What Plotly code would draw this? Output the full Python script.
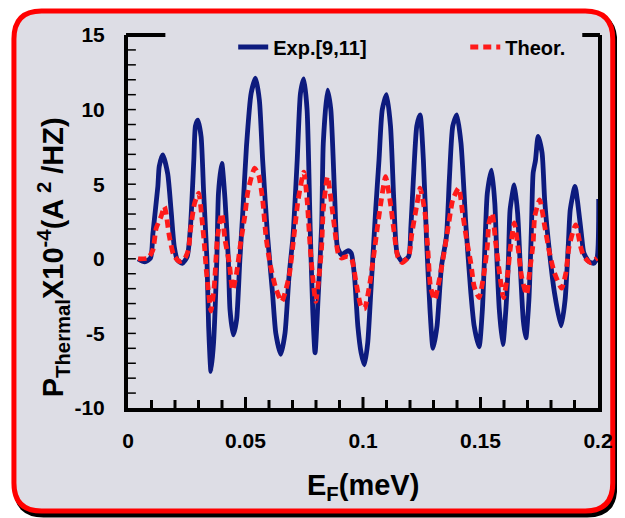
import plotly.graph_objects as go

# ---- data ----
exp_x = [0.0043, 0.0071, 0.0096, 0.0106, 0.0127, 0.0133, 0.0148, 0.0169, 0.0183, 0.0197,
         0.0210, 0.0231, 0.0252, 0.0266, 0.0280, 0.0287, 0.0297, 0.0311, 0.0322, 0.0336,
         0.0343, 0.0353, 0.0364, 0.0378, 0.0385, 0.0399, 0.0413, 0.0427, 0.0434, 0.0448,
         0.0462, 0.0476, 0.0488, 0.0504, 0.0524, 0.0543, 0.0559, 0.0573, 0.0594, 0.0615,
         0.0629, 0.0650, 0.0668, 0.0685, 0.0702, 0.0720, 0.0734, 0.0748, 0.0762, 0.0775,
         0.0786, 0.0796, 0.0810, 0.0824, 0.0831, 0.0849, 0.0863, 0.0880, 0.0891, 0.0908,
         0.0936, 0.0950, 0.0964, 0.0978, 0.0992, 0.1006, 0.1020, 0.1033, 0.1054, 0.1068,
         0.1082, 0.1100, 0.1117, 0.1131, 0.1145, 0.1166, 0.1194, 0.1204, 0.1215, 0.1229,
         0.1243, 0.1257, 0.1271, 0.1285, 0.1298, 0.1315, 0.1334, 0.1355, 0.1368, 0.1382,
         0.1399, 0.1417, 0.1438, 0.1459, 0.1473, 0.1494, 0.1508, 0.1522, 0.1529, 0.1547,
         0.1561, 0.1570, 0.1580, 0.1595, 0.1608, 0.1619, 0.1626, 0.1644, 0.1658, 0.1668,
         0.1682, 0.1693, 0.1706, 0.1717, 0.1724, 0.1734, 0.1745, 0.1762, 0.1773, 0.1794,
         0.1815, 0.1843, 0.1860, 0.1874, 0.1882, 0.1902, 0.1912, 0.1929, 0.1940, 0.1961,
         0.1982, 0.1996, 0.2003]
exp_y = [0.0, -0.2, 0.05, 1.7, 4.85, 6.2, 6.97, 5.7, 3.3, 0.8,
         -0.07, -0.3, 0.15, 2.2, 6.6, 8.9, 9.3, 8.2, 4.4, -0.07,
         -4.5, -7.55, -5.65, -0.07, 4.4, 6.4, 3.95, -0.07, -3.4, -5.1,
         -4.1, -0.07, 3.0, 7.5, 11.1, 12.1, 10.65, 6.6, 1.5, -2.3,
         -5.0, -6.4, -5.0, -1.2, 1.5, 6.6, 11.1, 12.05, 10.0, 2.2,
         -3.4, -6.3, -2.3, 2.2, 7.75, 11.3, 10.0, 3.95, 0.8, 0.27,
         0.55, 0.38, -1.2, -4.5, -6.3, -7.1, -5.65, -2.3, 3.3, 6.6,
         10.0, 11.0, 8.9, 3.95, 0.38, -0.18, 0.15, 2.2, 5.5, 8.9,
         9.65, 6.6, 1.05, -3.4, -6.0, -4.5, -0.5, 1.5, 5.5, 8.9,
         9.65, 7.75, 2.2, -2.3, -4.5, -5.9, -3.4, 2.2, 4.4, 5.95,
         3.7, -0.07, -3.4, -5.75, -3.4, 0.0, 3.3, 4.95, 3.05, -0.07,
         -4.1, -5.3, -2.75, 2.2, 5.75, 6.6, 8.2, 7.1, 3.95, 0.38,
         -2.3, -4.5, -2.75, 1.05, 3.3, 4.85, 3.95, 1.7, 0.38, -0.18,
         -0.3, 0.05, 4.0]

theor_x = [0.0043, 0.0085, 0.0106, 0.0120, 0.0141, 0.0155, 0.0162, 0.0176, 0.0194, 0.0218,
           0.0238, 0.0257, 0.0266, 0.0283, 0.0301, 0.0315, 0.0325, 0.0333, 0.0343, 0.0353,
           0.0367, 0.0381, 0.0399, 0.0413, 0.0431, 0.0445, 0.0462, 0.0480, 0.0497, 0.0510,
           0.0539, 0.0556, 0.0573, 0.0587, 0.0604, 0.0629, 0.0654, 0.0685, 0.0706, 0.0724,
           0.0748, 0.0762, 0.0775, 0.0786, 0.0799, 0.0813, 0.0824, 0.0831, 0.0849, 0.0866,
           0.0880, 0.0894, 0.0908, 0.0929, 0.0950, 0.0971, 0.0992, 0.1006, 0.1027, 0.1047,
           0.1062, 0.1078, 0.1096, 0.1117, 0.1131, 0.1148, 0.1166, 0.1194, 0.1208, 0.1229,
           0.1243, 0.1264, 0.1277, 0.1287, 0.1305, 0.1326, 0.1347, 0.1365, 0.1382, 0.1407,
           0.1424, 0.1441, 0.1459, 0.1473, 0.1494, 0.1515, 0.1529, 0.1536, 0.1550, 0.1564,
           0.1577, 0.1598, 0.1616, 0.1626, 0.1644, 0.1661, 0.1675, 0.1696, 0.1710, 0.1724,
           0.1731, 0.1752, 0.1773, 0.1794, 0.1815, 0.1845, 0.1863, 0.1877, 0.1905, 0.1926,
           0.1940, 0.1968, 0.1996]
theor_y = [0.0, 0.05, 0.6, 2.05, 2.85, 3.5, 3.05, 1.5, 0.27, -0.18,
           -0.07, 0.6, 1.95, 3.7, 4.4, 2.6, 0.94, -0.74, -2.3, -3.5,
           -1.85, 1.5, 3.05, 1.27, -0.3, -2.1, -0.96, 1.16, 2.85, 4.5,
           6.08, 5.6, 3.95, 1.5, -0.3, -1.97, -2.86, -1.2, 1.5, 3.95,
           5.8, 3.95, 0.82, -1.2, -2.86, -1.2, 0.82, 3.3, 5.5, 3.7,
           1.95, 0.38, 0.05, 0.15, 0.05, -1.63, -3.2, -3.35, -1.85, 0.38,
           2.2, 3.95, 5.5, 3.7, 1.95, 0.15, -0.25, 0.15, 1.7, 3.6,
           4.74, 3.05, 0.38, -1.85, -2.75, -1.3, 0.6, 2.4, 3.95, 4.74,
           3.05, 1.27, -0.3, -1.85, -2.6, -0.96, 0.82, 2.4, 3.05, 1.16,
           -0.5, -2.6, -0.96, 0.6, 2.4, 0.6, -1.2, -2.4, -0.74, 1.05,
           2.85, 3.95, 2.2, 0.38, -0.96, -1.97, -0.96, 0.82, 2.28, 0.82,
           0.15, -0.25, 0.05]

x_tickvals = [0, 0.05, 0.1, 0.15, 0.2]
x_ticktext = ["0", "0.05", "0.1", "0.15", "0.2"]
y_tickvals = [-10, -5, 0, 5, 10, 15]
y_ticktext = ["-10", "-5", "0", "5", "10", "15"]
x_minor_ticks = [0.01, 0.02, 0.03, 0.04, 0.06, 0.07, 0.08, 0.09, 0.11, 0.12,
                 0.13, 0.14, 0.16, 0.17, 0.18, 0.19]
y_minor_ticks = [-9, -8, -7, -6, -4, -3, -2, -1, 1, 2, 3, 4, 6, 7, 8, 9,
                 11, 12, 13, 14]

# ---- layout geometry ----
# The page body has an 8px margin, so the figure is drawn 8px in from the
# window corner; helper functions take window (reference) pixel positions.
OFF = 8
W, H = 625 - OFF, 518 - OFF
PL, PR, PT, PB = 128, 606, 35, 408          # plot-area edges in window pixels
ML, MR, MT, MB = PL - OFF, 625 - PR, PT - OFF, H - (PB - OFF)
PW, PH = PR - PL, PB - PT

def px(x):
    return (x - PL) / PW

def py(y):
    return (PB - y) / PH

def rounded_rect(x0, y0, x1, y1, r):
    pts = [
        ("M", [(x0 + r, y0)]),
        ("L", [(x1 - r, y0)]),
        ("Q", [(x1, y0), (x1, y0 + r)]),
        ("L", [(x1, y1 - r)]),
        ("Q", [(x1, y1), (x1 - r, y1)]),
        ("L", [(x0 + r, y1)]),
        ("Q", [(x0, y1), (x0, y1 - r)]),
        ("L", [(x0, y0 + r)]),
        ("Q", [(x0, y0), (x0 + r, y0)]),
    ]
    s = ""
    for cmd, ps in pts:
        s += cmd + " ".join(f"{px(a):.5f},{py(b):.5f}" for a, b in ps) + " "
    return s + "Z"

BG = "#dddde5"
NAVY = "#0d1b7e"
RED = "#ff1a1a"
FONT = "Liberation Sans, Arial, sans-serif"

fig = go.Figure()
fig.add_trace(go.Scatter(x=exp_x, y=exp_y, mode="lines", name="<b>Exp.[9,11]</b>",
                         legend="legend",
                         line=dict(color=NAVY, width=4.8, shape="spline", smoothing=0.6)))
fig.add_trace(go.Scatter(x=theor_x, y=theor_y, mode="lines", name="<b>Theor.</b>",
                         legend="legend2",
                         line=dict(color=RED, width=4.8, dash="8px,5px",
                                   shape="spline", smoothing=0.6)))

legend_style = dict(orientation="h", xanchor="left", yanchor="middle", y=py(47),
                    bgcolor="rgba(0,0,0,0)", borderwidth=0,
                    font=dict(size=20, color="black", family=FONT))

# tick marks pointing into the plot, placed through the axis scales
tick_shapes = []
for v in x_tickvals[1:-1]:
    tick_shapes.append(dict(type="line", xref="x", yref="paper", x0=v, x1=v,
                            y0=0, y1=11 / PH, line=dict(color="black", width=3)))
for v in x_minor_ticks:
    tick_shapes.append(dict(type="line", xref="x", yref="paper", x0=v, x1=v,
                            y0=0, y1=8 / PH, line=dict(color="black", width=3)))
for v in y_tickvals[1:-1] + y_minor_ticks:
    tick_shapes.append(dict(type="line", xref="paper", yref="y", x0=0, x1=8 / PW,
                            y0=v, y1=v, line=dict(color="black", width=1.5)))

fig.update_layout(
    width=W, height=H,
    margin=dict(l=ML, r=MR, t=MT, b=MB, pad=0),
    paper_bgcolor="white",
    plot_bgcolor="rgba(0,0,0,0)",
    font=dict(family=FONT, color="black"),
    showlegend=True,
    legend=dict(x=px(235), **legend_style),
    legend2=dict(x=px(471), **legend_style),
    shapes=[
        dict(type="path", xref="paper", yref="paper", layer="below",
             path=rounded_rect(14, 14, 623, 515, 28),
             fillcolor="black", line=dict(color="black", width=5)),
        dict(type="path", xref="paper", yref="paper", layer="below",
             path=rounded_rect(12, 11, 621, 511, 28),
             fillcolor=BG, line=dict(color="#ff0000", width=5)),
        # top frame caps (the middle of the top edge is left open for the legend)
        dict(type="line", xref="paper", yref="paper", x0=px(126), x1=px(166),
             y0=1, y1=1, line=dict(color="black", width=4)),
        dict(type="line", xref="paper", yref="paper", x0=px(590), x1=px(608),
             y0=1, y1=1, line=dict(color="black", width=4)),
    ] + tick_shapes,
    annotations=[
        dict(text="<b>P<sub>Thermal</sub>X10<sup>-4</sup>(A<sup> 2</sup> /HZ)</b>",
             xref="paper", yref="paper", x=px(52), y=py(257), textangle=-90,
             showarrow=False, xanchor="center", yanchor="middle",
             font=dict(size=29, family=FONT, color="black")),
        dict(text="<b>E<sub>F</sub>(meV)</b>",
             xref="paper", yref="paper", x=px(367), y=py(487),
             showarrow=False, xanchor="center", yanchor="middle",
             font=dict(size=29, family=FONT, color="black")),
    ],
)

fig.update_xaxes(range=[0, 0.2], tickvals=x_tickvals, ticktext=x_ticktext,
                 showgrid=False, zeroline=False, showline=True, linecolor="black",
                 linewidth=4, mirror=False, ticks="", ticklabelstandoff=11,
                 tickfont=dict(size=21, family=FONT, color="black", weight="bold"))
fig.update_yaxes(range=[-10, 15], tickvals=y_tickvals, ticktext=y_ticktext,
                 showgrid=False, zeroline=False, showline=True, linecolor="black",
                 linewidth=4, mirror=True, ticks="", ticklabelstandoff=15,
                 tickfont=dict(size=21, family=FONT, color="black", weight="bold"))

fig.write_html("out.html")
